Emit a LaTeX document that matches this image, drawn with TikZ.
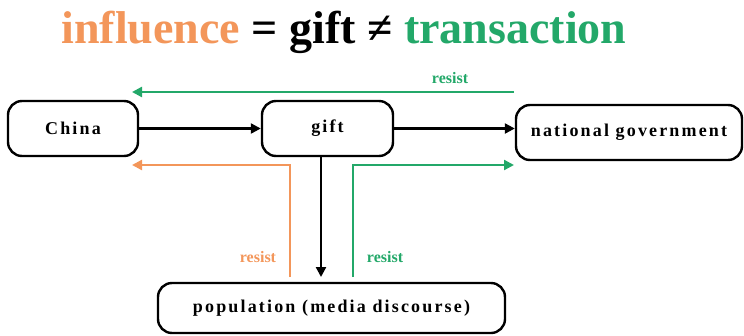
\documentclass[tikz,border=0pt]{standalone}
\usepackage{fontspec}
\usepackage{tikz}
\usetikzlibrary{arrows.meta}
\setmainfont{Liberation Serif}
\definecolor{carrot}{RGB}{243, 150, 90}
\definecolor{emerald}{RGB}{35, 168, 105}
\newfontfamily\spacedfont[LetterSpace=12]{Liberation Serif}
\tikzset{
    actor/.style={draw, line width=2.4pt, rounded corners=14pt, inner sep=0pt,
                  minimum height=55pt, font=\spacedfont\bfseries\fontsize{18}{20}\selectfont},
    flow/.style={line width=2.3pt, -{Triangle[length=10pt, width=10pt]}},
    tag/.style={font=\bfseries\fontsize{16}{18}\selectfont}
}
\begin{document}
\begin{tikzpicture}[x=1pt, y=-1pt]
            \useasboundingbox (0,0) rectangle (744,335);
            % title
            \node (title) at (344,32) {\bfseries\fontsize{46}{50}\selectfont
                 \textcolor{carrot}{influence} = gift ≠ \textcolor{emerald}{transaction}};
            % actors
            \node[actor, minimum width=130pt] (china)  at ( 73.0,128.5) {China};
            \node[actor, minimum width=131pt] (gift)   at (327.5,128.5) {gift};
            \node[actor, minimum width=226pt] (natgov) at (629.0,132.5) {national government};
            \node[actor, minimum width=347pt, minimum height=50pt] (pop) at (331.5,308.0) {population (media discourse)};
            % free ends
            \coordinate (topstart) at (514, 92);
            \coordinate (topend)   at (132, 92);
            \coordinate (orastart) at (290,277);
            \coordinate (oraend)   at (132,165);
            \coordinate (grnstart) at (353,277);
            \coordinate (grnend)   at (514,165);
            \coordinate (downend)  at (321,277);
            % connectors
            \draw[flow] (china) -- (gift);
            \draw[flow] (gift.east) -- (gift.east -| natgov.west);
            \draw[flow] (gift.south -| downend) -- (downend);
            \draw[flow, emerald] (topstart) -- (topend);
            \draw[flow, carrot]  (orastart) |- (oraend);
            \draw[flow, emerald] (grnstart) |- (grnend);
            % labels
            \node[tag, emerald] (resisttop)   at (450, 78) {resist};
            \node[tag, carrot]  (resistleft)  at (258,257) {resist};
            \node[tag, emerald] (resistright) at (385,257) {resist};
        \end{tikzpicture}
\end{document}
